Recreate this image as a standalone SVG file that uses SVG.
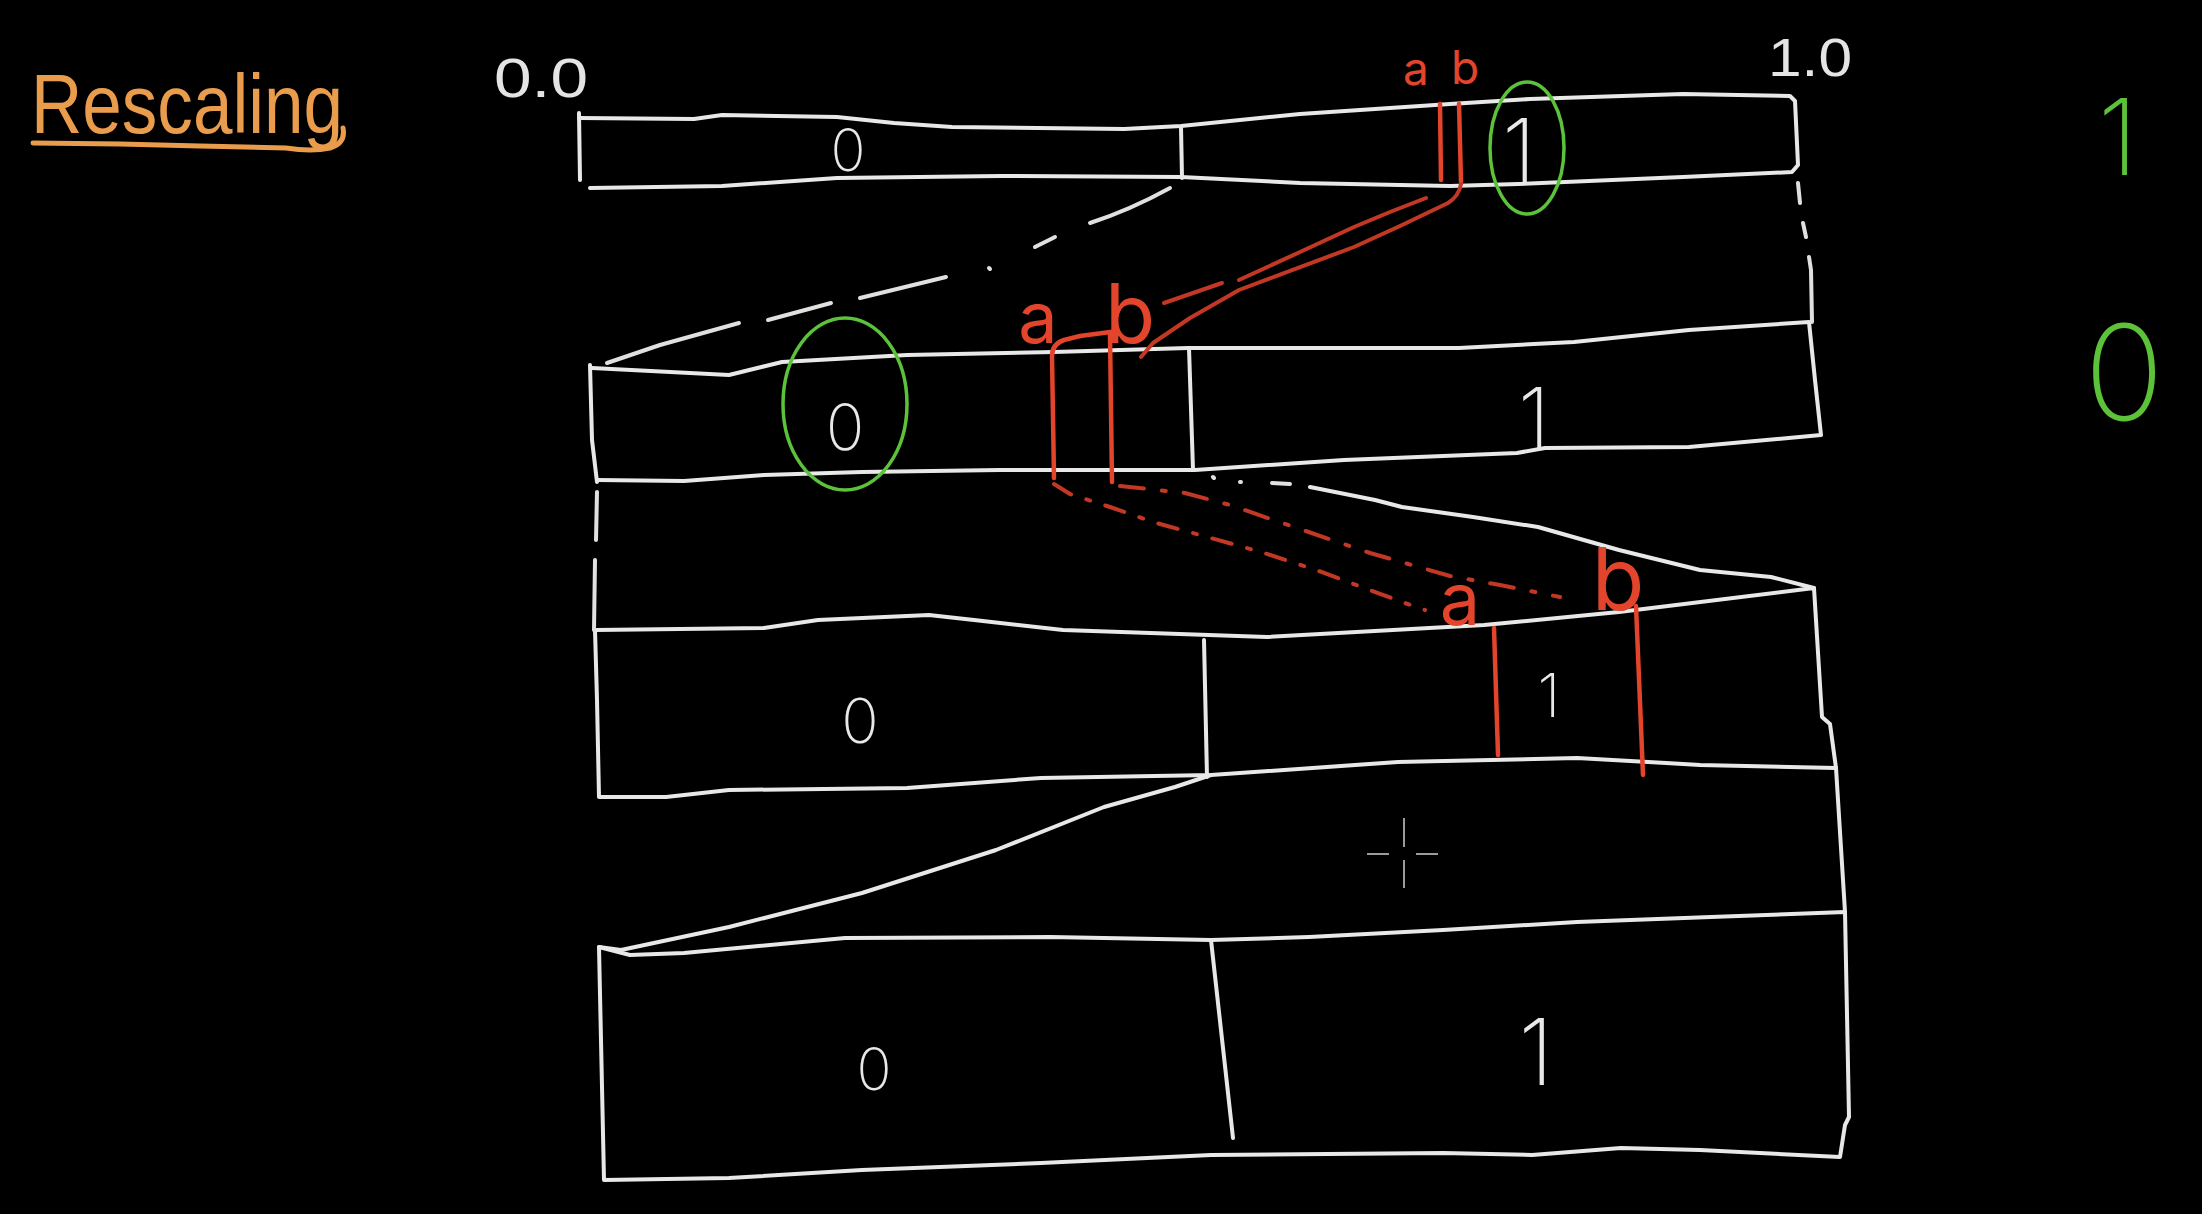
<svg xmlns="http://www.w3.org/2000/svg" width="2202" height="1214" viewBox="0 0 2202 1214">
<defs>
<style>
.w{fill:none;stroke:#e8e8e8;stroke-width:4;stroke-linecap:round;stroke-linejoin:round}
.wd{fill:none;stroke:#e0e0e0;stroke-width:4;stroke-linecap:round;stroke-linejoin:round}
.r{fill:none;stroke:#e2442c;stroke-width:4.5;stroke-linecap:round;stroke-linejoin:round}
.rd{fill:none;stroke:#c23824;stroke-width:4;stroke-linecap:round;stroke-linejoin:round}
.g{fill:none;stroke:#5cc23a;stroke-width:3.5}
.lbl{font-family:Inter,'DejaVu Sans',sans-serif;font-weight:200;fill:#e8e8e8;text-anchor:middle}
.rl{font-family:Inter,'DejaVu Sans',sans-serif;font-weight:400;fill:#e2442c;text-anchor:middle}
.gl{font-family:Inter,'DejaVu Sans',sans-serif;font-weight:200;fill:#5cc23a;text-anchor:middle}
.ax{font-family:'Liberation Sans',sans-serif;fill:#e4e4e4}
</style>
</defs>
<rect width="2202" height="1214" fill="#000"/>

<g id="title">
<text x="31" y="133" font-family="'Liberation Sans',sans-serif" font-size="84" fill="#e89c4c" textLength="312" lengthAdjust="spacingAndGlyphs">Rescaling</text>
<path d="M33,143 L120,144 L200,146 L286,148 Q312,152 330,148 Q346,143 343,128" fill="none" stroke="#e89c4c" stroke-width="5" stroke-linecap="round"/>
</g>

<g id="axis-labels">
<text class="ax" x="494" y="97" font-size="56" textLength="94" lengthAdjust="spacingAndGlyphs">0.0</text>
<text class="ax" x="1768" y="76" font-size="54" textLength="84" lengthAdjust="spacingAndGlyphs">1.0</text>
</g>

<g id="bar1">
<path class="w" d="M579,118 L694,119 L722,115 L837,117 L894,123 L952,127 L1124,129 L1181,126 L1300,114 L1450,104 L1530,99 L1683,94 L1790,96 L1795,101 L1798,165 L1792,172 L1683,177 L1518,184 L1450,186 L1300,183 L1181,177 L1000,176 L837,178 L722,186 L590,188"/>
<path class="w" d="M579,113 L580,180"/>
<path class="w" d="M1181,127 L1182,178"/>
<text class="lbl" x="848" y="171" font-size="58">0</text>
<text class="lbl" x="1519" y="183" font-size="90">1</text>
</g>

<g id="bar2">
<path class="w" d="M592,368 L729,375 L782,362 L907,355 L1054,352 L1188,348 L1459,348 L1574,342 L1689,330 L1809,322 L1815,380 L1821,435 L1689,447 L1545,448 L1517,453 L1344,460 L1195,470 L1000,470 L862,472 L764,475 L684,481 L597,480"/>
<path class="w" d="M590,365 L592,440 L597,482"/>
<path class="w" d="M1189,348 L1193,470"/>
<text class="lbl" x="845" y="450" font-size="64">0</text>
<text class="lbl" x="1534" y="448" font-size="84">1</text>
</g>

<g id="bar3">
<path class="w" d="M595,630 L764,628 L818,620 L929,615 L974,620 L1063,630 L1267,637 L1484,625 L1619,612 L1814,588 L1822,717 L1830,724 L1836,768 L1700,765 L1666,763 L1577,758 L1398,762 L1211,775 L1041,778 L907,788 L729,790 L666,797 L599,797 L597,700 L595,630"/>
<path class="w" d="M1204,640 L1207,777"/>
<text class="lbl" x="860" y="743" font-size="62">0</text>
<text class="lbl" x="1549" y="717" font-size="60">1</text>
</g>

<g id="bar4">
<path class="w" d="M599,947 L630,955 L684,953 L845,938 L1050,937 L1211,940 L1309,937 L1443,930 L1577,922 L1711,917 L1845,912 L1849,1117 L1845,1125 L1840,1157 L1700,1150 L1621,1148 L1532,1155 L1443,1153 L1211,1155 L1041,1163 L862,1170 L729,1178 L604,1180 L599,947"/>
<path class="w" d="M1211,940 L1233,1138"/>
<text class="lbl" x="874" y="1090" font-size="58">0</text>
<text class="lbl" x="1536" y="1085" font-size="92">1</text>
</g>

<g id="connectors">
<path class="wd" d="M1170,188 Q1130,210 1090,223"/>
<path class="wd" d="M1055,237 L1035,247"/>
<path class="wd" d="M989,268 L990,269"/>
<path class="wd" d="M946,277 L860,298"/>
<path class="wd" d="M831,303 L768,320"/>
<path class="wd" d="M739,323 L660,345 L607,363"/>
<path class="wd" d="M1798,183 L1800,203 M1803,223 L1806,237 M1809,257 L1811,270 L1812,322"/>
<path class="wd" d="M597,492 L596,540 M595,560 L594,630"/>
<path class="wd" d="M1213,477 L1214,478 M1240,482 L1241,482 M1272,483 L1290,484"/>
<path class="w" d="M1310,487 L1375,500 L1402,507 L1473,517 L1538,527 L1619,550 L1700,570 L1771,577 L1814,588"/>
<path class="w" d="M1836,768 L1845,912"/>
<path class="w" d="M1211,775 L1175,787 L1104,807 L996,850 L862,893 L729,927 L621,950 L599,947"/>
</g>

<g id="interval-ab">
<text class="rl" x="1416" y="85" font-size="46">a</text>
<text class="rl" x="1465" y="84" font-size="46">b</text>
<path class="r" d="M1440,104 L1441,180"/>
<path class="r" d="M1459,104 L1461,182"/>
<path class="rd" d="M1426,198 L1390,212 L1354,227 L1300,252 L1239,280"/>
<path class="rd" d="M1222,283 L1164,303"/>
<path class="rd" d="M1461,184 Q1459,196 1448,203 L1400,226 L1354,247 L1239,290 L1190,318 L1153,343 L1141,357"/>
<text class="rl" x="1038" y="343" font-size="70">a</text>
<text class="rl" x="1130" y="343" font-size="82">b</text>
<path class="r" d="M1118,331 L1080,336 L1064,340 Q1052,344 1052,356 L1054,478"/>
<path class="r" d="M1110,335 L1112,482"/>
<path class="rd" stroke-dasharray="20 16 4 16" d="M1054,484 L1070,494 L1110,507 L1153,522 L1200,535 L1261,552 L1316,570 L1402,602 L1425,610"/>
<path class="rd" stroke-dasharray="24 18 4 18" d="M1120,486 L1185,493 L1230,505 L1294,527 L1370,553 L1450,576 L1500,585 L1560,597"/>
<text class="rl" x="1460" y="625" font-size="72">a</text>
<text class="rl" x="1618" y="610" font-size="86">b</text>
<path class="r" d="M1494,628 L1498,755"/>
<path class="r" d="M1636,606 L1643,775"/>
</g>

<g id="highlights">
<ellipse class="g" cx="1527" cy="148" rx="37" ry="66"/>
<ellipse class="g" cx="845" cy="404" rx="62" ry="86"/>
<text class="gl" x="2118" y="175" font-size="106">1</text>
<text class="gl" x="2124" y="420" font-size="132">0</text>
</g>

<g id="cursor">
<path d="M1404,818 L1404,847 M1404,860 L1404,888 M1367,854 L1389,854 M1416,854 L1438,854" stroke="#9a9a9a" stroke-width="2" fill="none"/>
</g>
</svg>
